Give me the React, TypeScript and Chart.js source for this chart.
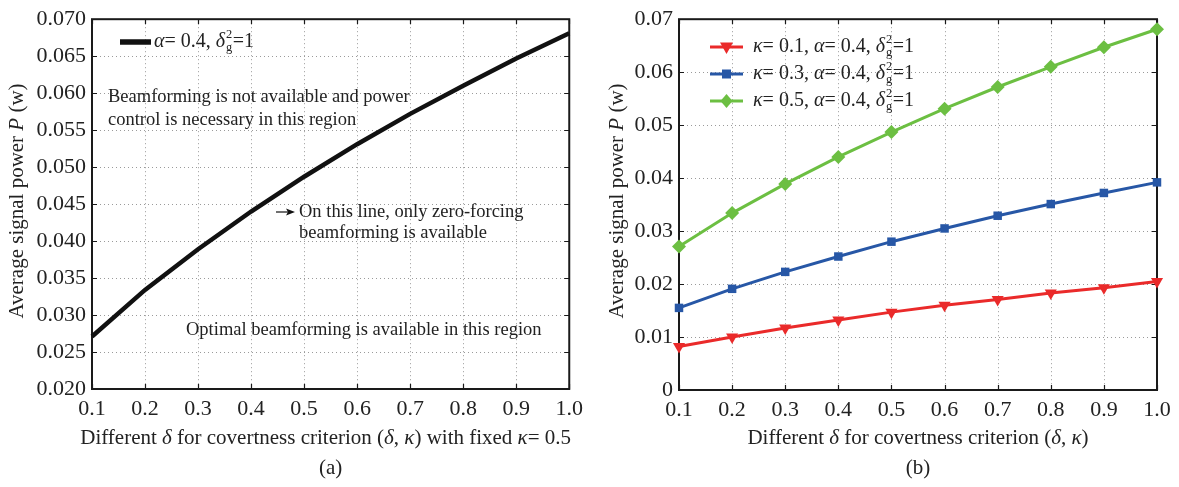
import React, { useEffect, useRef } from "react";
import { Chart, registerables } from "chart.js";

Chart.register(...registerables);

// ---------- data ----------
const deltaLabels = ["0.1", "0.2", "0.3", "0.4", "0.5", "0.6", "0.7", "0.8", "0.9", "1.0"];
const powerFixedKappa05 = [0.0271, 0.0334, 0.0389, 0.044, 0.0487, 0.0531, 0.0572, 0.061, 0.0647, 0.0681];
const powerKappa01 = [0.0082, 0.0100, 0.0117, 0.0132, 0.0147, 0.0160, 0.0171, 0.0183, 0.0193, 0.0205];
const powerKappa03 = [0.0155, 0.0191, 0.0223, 0.0252, 0.0280, 0.0305, 0.0329, 0.0351, 0.0372, 0.0392];
const powerKappa05 = [0.0271, 0.0334, 0.0389, 0.044, 0.0487, 0.0531, 0.0572, 0.061, 0.0647, 0.0681];
const leftYRange = [0.02, 0.07];
const leftYStep = 0.005;
const rightYRange = [0, 0.07];
const rightYStep = 0.01;

const FONT = '"Liberation Serif", "DejaVu Serif", serif';
const RED = "#ea2a2a";
const BLUE = "#2757a6";
const GREEN = "#6cbf42";

type Seg = { t?: string; i?: boolean; sub?: string; sup?: string };

function drawRich(ctx: CanvasRenderingContext2D, segs: Seg[], x: number, y: number, size: number, align: "left" | "center") {
  const font = (it: boolean, s: number) => `${it ? "italic " : ""}${s}px ${FONT}`;
  const widths = segs.map((s) => {
    if (s.sub !== undefined || s.sup !== undefined) {
      ctx.font = font(false, size * 0.62);
      return Math.max(ctx.measureText(s.sub || "").width, ctx.measureText(s.sup || "").width) + 1.5;
    }
    ctx.font = font(!!s.i, size);
    return ctx.measureText(s.t || "").width;
  });
  const total = widths.reduce((a, b) => a + b, 0);
  let cx = align === "center" ? x - total / 2 : x;
  ctx.textAlign = "left";
  ctx.textBaseline = "middle";
  segs.forEach((s, k) => {
    if (s.sub !== undefined || s.sup !== undefined) {
      ctx.font = font(false, size * 0.62);
      if (s.sup) ctx.fillText(s.sup, cx + 1, y - size * 0.36);
      if (s.sub) ctx.fillText(s.sub, cx + 1, y + size * 0.3);
    } else {
      ctx.font = font(!!s.i, size);
      ctx.fillText(s.t || "", cx, y);
    }
    cx += widths[k];
  });
}

const framePlugin = {
  id: "frame",
  beforeDatasetsDraw(chart: any) {
    const { ctx, chartArea } = chart;
    const { left, right, top, bottom } = chartArea;
    const xs = chart.scales.x;
    const ys = chart.scales.y;
    ctx.save();
    ctx.strokeStyle = "#9a9a9a";
    ctx.lineWidth = 1;
    ctx.setLineDash([1, 3]);
    xs.ticks.forEach((_t: any, i: number) => {
      const px = Math.round(xs.getPixelForTick(i)) + 0.5;
      if (px <= left + 2 || px >= right - 2) return;
      ctx.beginPath();
      ctx.moveTo(px, top);
      ctx.lineTo(px, bottom);
      ctx.stroke();
    });
    ys.ticks.forEach((_t: any, i: number) => {
      const py = Math.round(ys.getPixelForTick(i)) + 0.5;
      if (py <= top + 2 || py >= bottom - 2) return;
      ctx.beginPath();
      ctx.moveTo(left, py);
      ctx.lineTo(right, py);
      ctx.stroke();
    });
    ctx.setLineDash([]);
    ctx.strokeStyle = "#1a1a1a";
    ctx.lineWidth = 1.2;
    const tl = 5;
    xs.ticks.forEach((_t: any, i: number) => {
      const px = Math.round(xs.getPixelForTick(i)) + 0.5;
      ctx.beginPath();
      ctx.moveTo(px, bottom);
      ctx.lineTo(px, bottom - tl);
      ctx.moveTo(px, top);
      ctx.lineTo(px, top + tl);
      ctx.stroke();
    });
    ys.ticks.forEach((_t: any, i: number) => {
      const py = Math.round(ys.getPixelForTick(i)) + 0.5;
      ctx.beginPath();
      ctx.moveTo(left, py);
      ctx.lineTo(left + tl, py);
      ctx.moveTo(right, py);
      ctx.lineTo(right - tl, py);
      ctx.stroke();
    });
    ctx.lineWidth = 2;
    ctx.strokeRect(left, top, right - left, bottom - top);
    ctx.restore();
  },
};

function makeScales(yMin: number, yMax: number, yStep: number, yDec: number, yWidth: number, xHeight: number) {
  return {
    x: {
      type: "category",
      offset: false,
      grid: { display: false, drawTicks: false },
      border: { display: false },
      ticks: { font: { family: FONT, size: 22 }, color: "#222", padding: 7, maxRotation: 0, autoSkip: false },
      afterFit: (s: any) => {
        s.height = xHeight;
      },
    },
    y: {
      type: "linear",
      min: yMin,
      max: yMax,
      grid: { display: false, drawTicks: false },
      border: { display: false },
      ticks: {
        stepSize: yStep,
        font: { family: FONT, size: 22 },
        color: "#222",
        padding: 6,
        callback: (v: any) => (Math.abs(Number(v)) < 1e-9 ? "0" : Number(v).toFixed(yDec)),
      },
      afterFit: (s: any) => {
        s.width = yWidth;
      },
    },
  };
}

function drawYTitle(ctx: CanvasRenderingContext2D, x: number, y: number) {
  ctx.save();
  ctx.fillStyle = "#222";
  ctx.translate(x, y);
  ctx.rotate(-Math.PI / 2);
  drawRich(ctx, [{ t: "Average signal power " }, { t: "P", i: true }, { t: " (w)" }], 0, 0, 21, "center");
  ctx.restore();
}

function drawMarker(ctx: CanvasRenderingContext2D, kind: string, x: number, y: number, color: string) {
  ctx.save();
  ctx.fillStyle = color;
  ctx.beginPath();
  if (kind === "tri") {
    ctx.moveTo(x - 6.5, y - 4.5);
    ctx.lineTo(x + 6.5, y - 4.5);
    ctx.lineTo(x, y + 7);
  } else if (kind === "sq") {
    ctx.rect(x - 4.5, y - 4.5, 9, 9);
  } else {
    ctx.moveTo(x, y - 7);
    ctx.lineTo(x + 6, y);
    ctx.lineTo(x, y + 7);
    ctx.lineTo(x - 6, y);
  }
  ctx.closePath();
  ctx.fill();
  ctx.restore();
}

const leftTextPlugin = {
  id: "leftText",
  afterDraw(chart: any) {
    const ctx: CanvasRenderingContext2D = chart.ctx;
    const { left, right } = chart.chartArea;
    ctx.save();
    ctx.fillStyle = "#222";
    // legend
    ctx.strokeStyle = "#111";
    ctx.lineWidth = 5.5;
    ctx.beginPath();
    ctx.moveTo(120, 42);
    ctx.lineTo(151, 42);
    ctx.stroke();
    drawRich(ctx, [{ t: "α", i: true }, { t: "= 0.4, " }, { t: "δ", i: true }, { sub: "g", sup: "2" }, { t: "=1" }], 154, 42, 20, "left");
    // annotations
    drawRich(ctx, [{ t: "Beamforming is not available and power" }], 108, 97, 18.5, "left");
    drawRich(ctx, [{ t: "control is necessary in this region" }], 108, 120, 18.5, "left");
    drawRich(ctx, [{ t: "On this line, only zero-forcing" }], 299, 212, 18.5, "left");
    drawRich(ctx, [{ t: "beamforming is available" }], 299, 233, 18.5, "left");
    drawRich(ctx, [{ t: "Optimal beamforming is available in this region" }], 186, 330, 18.5, "left");
    // arrow
    ctx.strokeStyle = "#111";
    ctx.lineWidth = 1.2;
    ctx.beginPath();
    ctx.moveTo(276, 212);
    ctx.lineTo(292, 212);
    ctx.stroke();
    ctx.fillStyle = "#111";
    ctx.beginPath();
    ctx.moveTo(295, 212);
    ctx.lineTo(286, 208.5);
    ctx.lineTo(288, 212);
    ctx.lineTo(286, 215.5);
    ctx.closePath();
    ctx.fill();
    // titles
    ctx.fillStyle = "#222";
    drawYTitle(ctx, 17, 201);
    const cx = (left + right) / 2;
    drawRich(
      ctx,
      [
        { t: "Different " },
        { t: "δ", i: true },
        { t: " for covertness criterion (" },
        { t: "δ", i: true },
        { t: ", " },
        { t: "κ", i: true },
        { t: ") with fixed " },
        { t: "κ", i: true },
        { t: "= 0.5" },
      ],
      cx - 5,
      438,
      21,
      "center"
    );
    drawRich(ctx, [{ t: "(a)" }], cx, 468, 21, "center");
    ctx.restore();
  },
};

const rightTextPlugin = {
  id: "rightText",
  afterDraw(chart: any) {
    const ctx: CanvasRenderingContext2D = chart.ctx;
    const { left, right } = chart.chartArea;
    ctx.save();
    const ox = -590;
    const entries = [
      { k: "0.1", c: RED, m: "tri", y: 47 },
      { k: "0.3", c: BLUE, m: "sq", y: 74 },
      { k: "0.5", c: GREEN, m: "dia", y: 101 },
    ];
    entries.forEach((e) => {
      ctx.strokeStyle = e.c;
      ctx.lineWidth = 3;
      ctx.beginPath();
      ctx.moveTo(710 + ox, e.y);
      ctx.lineTo(743 + ox, e.y);
      ctx.stroke();
      drawMarker(ctx, e.m, 726.5 + ox, e.y, e.c);
      ctx.fillStyle = "#222";
      drawRich(
        ctx,
        [{ t: "κ", i: true }, { t: "= " + e.k + ", " }, { t: "α", i: true }, { t: "= 0.4, " }, { t: "δ", i: true }, { sub: "g", sup: "2" }, { t: "=1" }],
        753 + ox,
        e.y,
        20,
        "left"
      );
    });
    ctx.fillStyle = "#222";
    drawYTitle(ctx, 617 + ox, 201);
    const cx = (left + right) / 2;
    drawRich(
      ctx,
      [{ t: "Different " }, { t: "δ", i: true }, { t: " for covertness criterion (" }, { t: "δ", i: true }, { t: ", " }, { t: "κ", i: true }, { t: ")" }],
      cx,
      438,
      21,
      "center"
    );
    drawRich(ctx, [{ t: "(b)" }], cx, 468, 21, "center");
    ctx.restore();
  },
};

export default function App() {
  const leftRef = useRef<HTMLCanvasElement | null>(null);
  const rightRef = useRef<HTMLCanvasElement | null>(null);

  useEffect(() => {
    const left = new Chart(leftRef.current as HTMLCanvasElement, {
      type: "line",
      data: {
        labels: deltaLabels,
        datasets: [
          {
            data: powerFixedKappa05,
            borderColor: "#111",
            borderWidth: 4.5,
            pointRadius: 0,
            tension: 0,
            clip: false,
          } as any,
        ],
      },
      options: {
        animation: false,
        responsive: false,
        layout: { padding: { left: 0, top: 13, right: 20, bottom: 0 } },
        plugins: { legend: { display: false }, tooltip: { enabled: false } },
        scales: makeScales(leftYRange[0], leftYRange[1], leftYStep, 3, 92, 98) as any,
      },
      plugins: [framePlugin, leftTextPlugin],
    });

    const right = new Chart(rightRef.current as HTMLCanvasElement, {
      type: "line",
      data: {
        labels: deltaLabels,
        datasets: [
          {
            data: powerKappa01,
            borderColor: RED,
            backgroundColor: RED,
            borderWidth: 3,
            pointStyle: "triangle",
            rotation: 180,
            pointRadius: 7,
            pointBorderWidth: 0,
            clip: false,
          } as any,
          {
            data: powerKappa03,
            borderColor: BLUE,
            backgroundColor: BLUE,
            borderWidth: 3,
            pointStyle: "rect",
            pointRadius: 6,
            pointBorderWidth: 0,
            clip: false,
          } as any,
          {
            data: powerKappa05,
            borderColor: GREEN,
            backgroundColor: GREEN,
            borderWidth: 3,
            pointStyle: "rectRot",
            pointRadius: 7,
            pointBorderWidth: 0,
            clip: false,
          } as any,
        ],
      },
      options: {
        animation: false,
        responsive: false,
        layout: { padding: { left: 0, top: 13, right: 22, bottom: 0 } },
        plugins: { legend: { display: false }, tooltip: { enabled: false } },
        scales: makeScales(rightYRange[0], rightYRange[1], rightYStep, 2, 89, 97) as any,
      },
      plugins: [framePlugin, rightTextPlugin],
    });

    return () => {
      left.destroy();
      right.destroy();
    };
  }, []);

  return (
    <div style={{ position: "fixed", left: 0, top: 0, width: 1179, height: 487, background: "#fff" }}>
      <canvas ref={leftRef} width={590} height={487} style={{ position: "absolute", left: 0, top: 0, width: 590, height: 487 }} />
      <canvas ref={rightRef} width={589} height={487} style={{ position: "absolute", left: 590, top: 0, width: 589, height: 487 }} />
    </div>
  );
}
